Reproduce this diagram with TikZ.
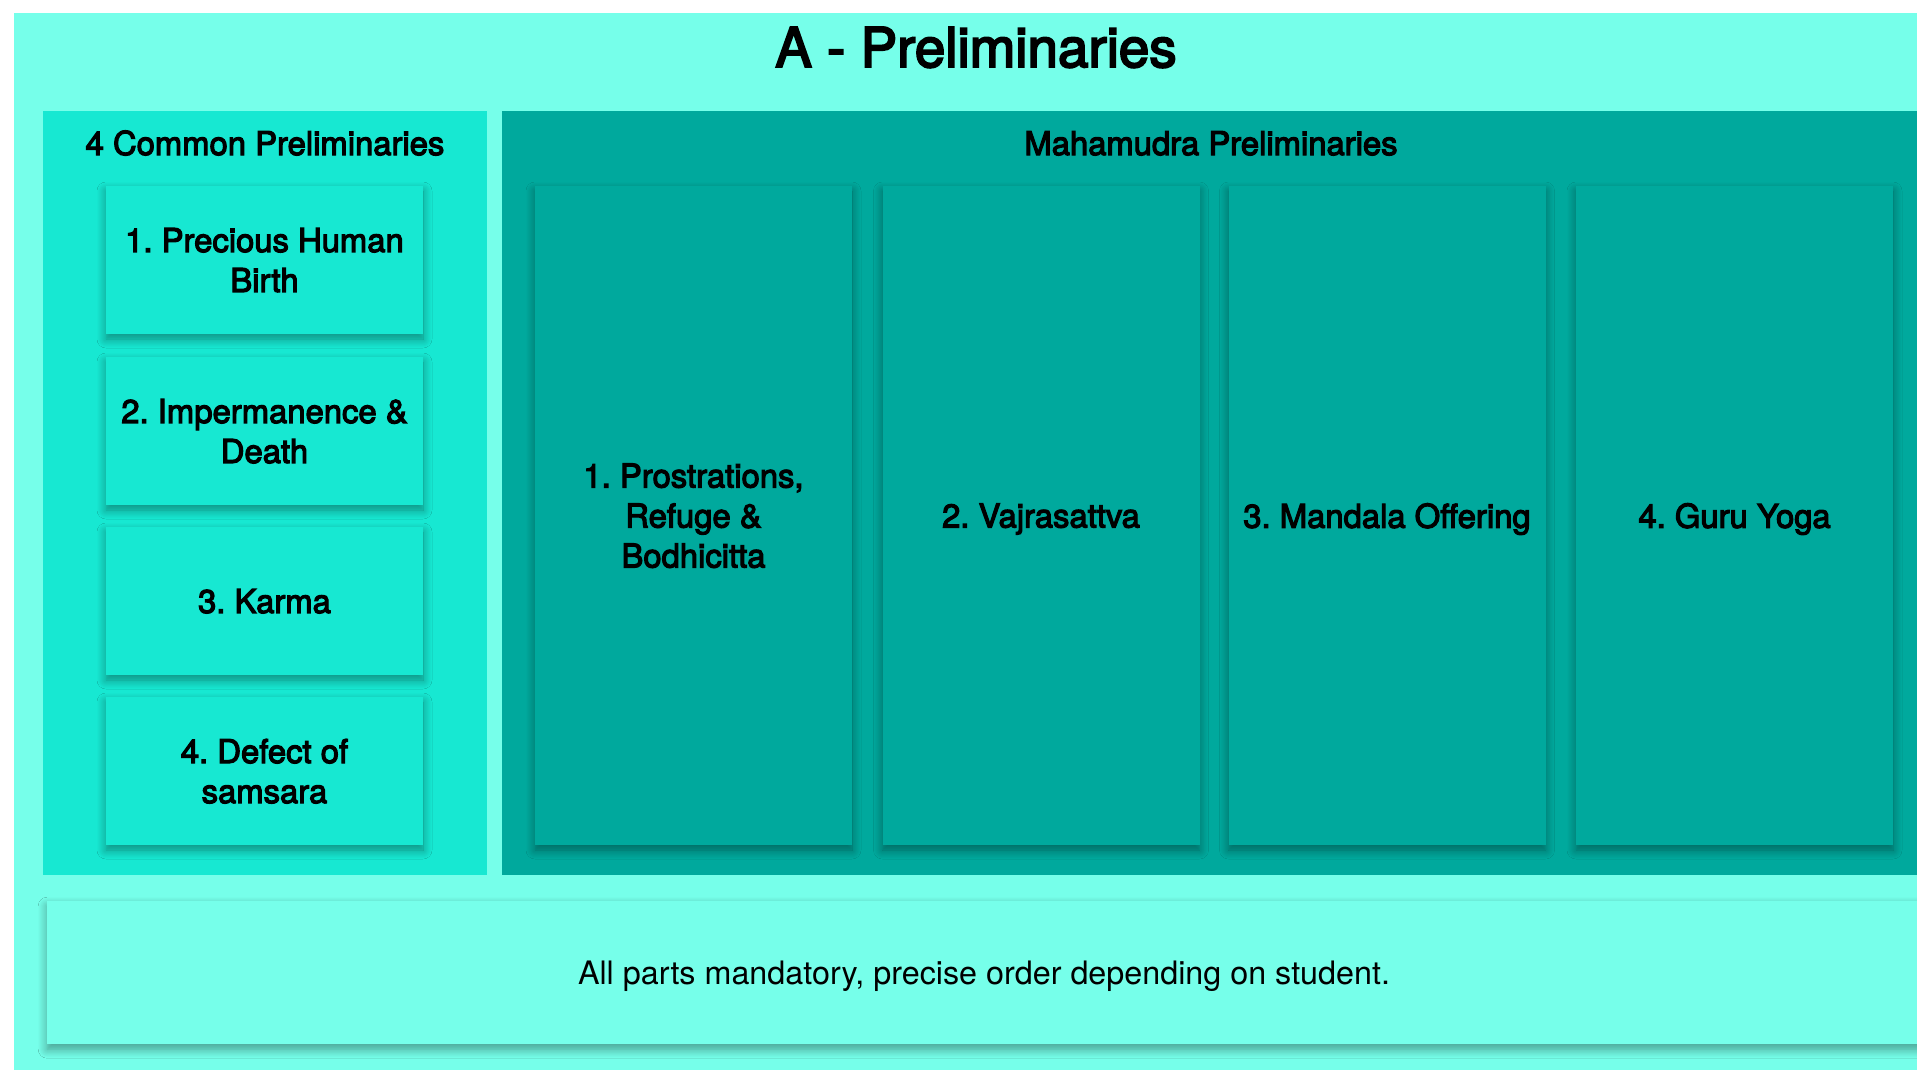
\documentclass[tikz,border=0pt]{standalone}
\usepackage{fontspec}
\setmainfont{TeX Gyre Heros}
\newfontfamily\medfont[FakeBold=3.5]{TeX Gyre Heros}
\usetikzlibrary{shadows.blur}
\definecolor{bglight}{HTML}{76FFEA}
\definecolor{panelA}{HTML}{17E8D2}
\definecolor{panelB}{HTML}{00A99D}
\frenchspacing
\tikzset{
  softshadow/.style={blur shadow={shadow xshift=0pt, shadow yshift=-5pt, shadow blur radius=9pt, shadow blur steps=10, shadow opacity=40}},
  card/.style={rectangle, inner sep=0pt, minimum width=317pt, align=center,
    font=\medfont\fontsize{32.8}{40}\selectfont, text depth=0pt, softshadow},
  lcard/.style={card, fill=panelA, minimum height=148pt},
  rcard/.style={card, fill=panelB, minimum height=659pt},
  panel/.style={rectangle, inner sep=0pt, draw=none, anchor=north west},
  ptitle/.style={anchor=base, inner sep=0pt, font=\medfont\fontsize{32.8}{40}\selectfont},
}
\begin{document}
\frenchspacing
\begin{tikzpicture}[x=1pt,y=-1pt]
\path[use as bounding box] (0,0) rectangle (1917,1069);
\clip (0,0) rectangle (1917,1069);
% background
\node[panel, fill=bglight, minimum width=1920pt, minimum height=1070pt] (bg) at (14,13) {};
\node[anchor=base, inner sep=0pt, font=\medfont\fontsize{54.8}{60}\selectfont] (title) at (976,67) {A - Preliminaries};
% panels
\node[panel, fill=panelA, minimum width=444pt, minimum height=764pt] (left) at (43,111) {};
\node[panel, fill=panelB, minimum width=1430pt, minimum height=764pt] (right) at (502,111) {};
\node[ptitle] (lt) at (265,155) {4 Common Preliminaries};
\node[ptitle] (rt) at (1211,155) {Mahamudra Preliminaries};
% left cards
\node[lcard] (l1) at (264.5,260) {1. Precious Human\\Birth};
\node[lcard] (l2) at (264.5,431) {2. Impermanence \&\\Death};
\node[lcard] (l3) at (264.5,601) {3. Karma};
\node[lcard] (l4) at (264.5,771) {4. Defect of\\samsara};
% right cards
\node[rcard] (r1) at (693.5,515.5) {1. Prostrations,\\Refuge \&\\Bodhicitta};
\node[rcard] (r2) at (1041,515.5) {2. Vajrasattva};
\node[rcard] (r3) at (1387,515.5) {3. Mandala Offering};
\node[rcard] (r4) at (1734.5,515.5) {4. Guru Yoga};
% bottom note
\node[panel, fill=bglight, softshadow, minimum width=1890pt, minimum height=143pt] (note) at (47,901) {};
\node[anchor=base, inner sep=0pt, font=\fontsize{32.3}{38}\selectfont] (notetext) at (984,984) {All parts mandatory, precise order depending on student.};
\end{tikzpicture}
\end{document}
